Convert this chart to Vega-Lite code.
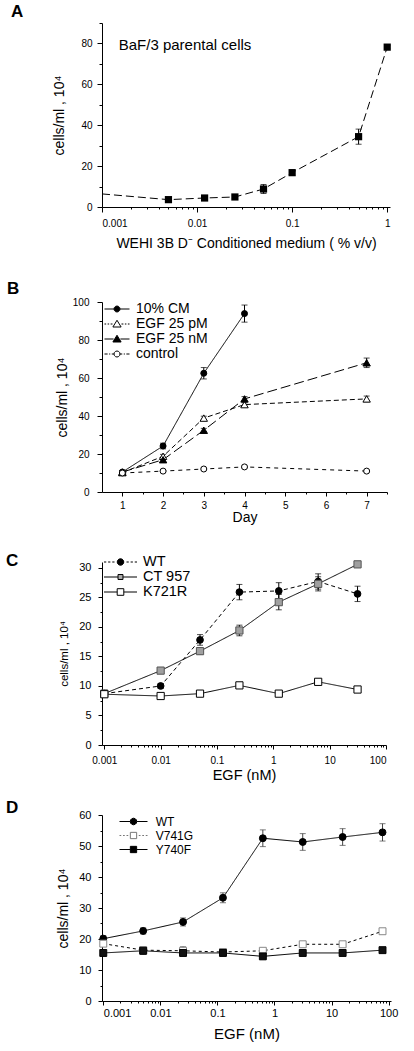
{
  "$schema": "https://vega.github.io/schema/vega-lite/v6.json",
  "padding": {"left": 6, "top": 3, "right": 5, "bottom": 5},
  "background": "white",
  "config": {
    "font": "Liberation Sans",
    "view": {"stroke": null},
    "axis": {"grid": false, "domainColor": "#000", "tickColor": "#000", "labelColor": "#000", "titleColor": "#000", "titleFontWeight": "normal", "labelFontSize": 10, "titleFontSize": 14, "labelOverlap": false, "domainWidth": 1, "tickWidth": 1},
    "title": {"color": "#000", "fontWeight": "bold", "fontSize": 17, "anchor": "start", "frame": "group", "baseline": "alphabetic"},
    "legend": {"titleFontSize": 0, "padding": 0, "rowPadding": 0, "symbolStrokeWidth": 1, "labelColor": "#000"}
  },
  "datasets": {
    "A": [
      {"x": 0.001, "y": 6.4, "err": 0},
      {"x": 0.005, "y": 3.6, "err": 0.8},
      {"x": 0.012, "y": 4.4, "err": 0.6},
      {"x": 0.025, "y": 4.9, "err": 0.6},
      {"x": 0.05, "y": 8.8, "err": 2.2},
      {"x": 0.1, "y": 16.8, "err": 1.3},
      {"x": 0.5, "y": 34.4, "err": 3.7},
      {"x": 1, "y": 78.2, "err": 0.8}
    ],
    "B": [
      {"series": "10% CM", "day": 1, "y": 10.5, "err": 0.8},
      {"series": "10% CM", "day": 2, "y": 24.2, "err": 1.5},
      {"series": "10% CM", "day": 3, "y": 62.5, "err": 3},
      {"series": "10% CM", "day": 4, "y": 93.9, "err": 4.5},
      {"series": "EGF 25 pM", "day": 1, "y": 10.2, "err": 0.5},
      {"series": "EGF 25 pM", "day": 2, "y": 18.8, "err": 1},
      {"series": "EGF 25 pM", "day": 3, "y": 38.9, "err": 1},
      {"series": "EGF 25 pM", "day": 4, "y": 46, "err": 1},
      {"series": "EGF 25 pM", "day": 7, "y": 49, "err": 1.5},
      {"series": "EGF 25 nM", "day": 1, "y": 10.5, "err": 0.5},
      {"series": "EGF 25 nM", "day": 2, "y": 17, "err": 1},
      {"series": "EGF 25 nM", "day": 3, "y": 32.5, "err": 1},
      {"series": "EGF 25 nM", "day": 4, "y": 49, "err": 1.2},
      {"series": "EGF 25 nM", "day": 7, "y": 68, "err": 2.5},
      {"series": "control", "day": 1, "y": 10, "err": 0.5},
      {"series": "control", "day": 2, "y": 11, "err": 0.5},
      {"series": "control", "day": 3, "y": 12.1, "err": 0.5},
      {"series": "control", "day": 4, "y": 13.2, "err": 0.5},
      {"series": "control", "day": 7, "y": 11, "err": 0.5}
    ],
    "C": [
      {"series": "WT", "x": 0.001, "y": 8.7, "err": 0.5},
      {"series": "WT", "x": 0.01, "y": 10, "err": 0.4},
      {"series": "WT", "x": 0.05, "y": 17.8, "err": 0.9},
      {"series": "WT", "x": 0.25, "y": 25.9, "err": 1.3},
      {"series": "WT", "x": 1.25, "y": 26.1, "err": 1.4},
      {"series": "WT", "x": 6.25, "y": 27.7, "err": 1.3},
      {"series": "WT", "x": 31.25, "y": 25.6, "err": 1.3},
      {"series": "CT 957", "x": 0.001, "y": 8.7, "err": 0.6},
      {"series": "CT 957", "x": 0.01, "y": 12.6, "err": 0.4},
      {"series": "CT 957", "x": 0.05, "y": 15.9, "err": 0.5},
      {"series": "CT 957", "x": 0.25, "y": 19.4, "err": 0.9},
      {"series": "CT 957", "x": 1.25, "y": 24.2, "err": 1.3},
      {"series": "CT 957", "x": 6.25, "y": 27.3, "err": 1.2},
      {"series": "CT 957", "x": 31.25, "y": 30.6, "err": 0.3},
      {"series": "K721R", "x": 0.001, "y": 8.6, "err": 0.4},
      {"series": "K721R", "x": 0.01, "y": 8.3, "err": 0.3},
      {"series": "K721R", "x": 0.05, "y": 8.7, "err": 0.3},
      {"series": "K721R", "x": 0.25, "y": 10.1, "err": 0.3},
      {"series": "K721R", "x": 1.25, "y": 8.7, "err": 0.3},
      {"series": "K721R", "x": 6.25, "y": 10.7, "err": 0.3},
      {"series": "K721R", "x": 31.25, "y": 9.4, "err": 0.3}
    ],
    "D": [
      {"series": "WT", "x": 0.001, "y": 20.1, "err": 1},
      {"series": "WT", "x": 0.005, "y": 22.6, "err": 1},
      {"series": "WT", "x": 0.025, "y": 25.5, "err": 1.3},
      {"series": "WT", "x": 0.125, "y": 33.3, "err": 1.6},
      {"series": "WT", "x": 0.625, "y": 52.5, "err": 2.7},
      {"series": "WT", "x": 3.125, "y": 51.3, "err": 2.7},
      {"series": "WT", "x": 15.625, "y": 52.9, "err": 2.7},
      {"series": "WT", "x": 78.125, "y": 54.4, "err": 2.8},
      {"series": "V741G", "x": 0.001, "y": 18.5, "err": 0.5},
      {"series": "V741G", "x": 0.005, "y": 16.4, "err": 0.5},
      {"series": "V741G", "x": 0.025, "y": 16.2, "err": 1.3},
      {"series": "V741G", "x": 0.125, "y": 15.8, "err": 0.5},
      {"series": "V741G", "x": 0.625, "y": 16.2, "err": 0.5},
      {"series": "V741G", "x": 3.125, "y": 18.3, "err": 0.5},
      {"series": "V741G", "x": 15.625, "y": 18.3, "err": 0.5},
      {"series": "V741G", "x": 78.125, "y": 22.5, "err": 0.8},
      {"series": "Y740F", "x": 0.001, "y": 15.5, "err": 1},
      {"series": "Y740F", "x": 0.005, "y": 16.2, "err": 1.2},
      {"series": "Y740F", "x": 0.025, "y": 15.5, "err": 1},
      {"series": "Y740F", "x": 0.125, "y": 15.5, "err": 0.8},
      {"series": "Y740F", "x": 0.625, "y": 14.4, "err": 0.8},
      {"series": "Y740F", "x": 3.125, "y": 15.5, "err": 0.5},
      {"series": "Y740F", "x": 15.625, "y": 15.5, "err": 0.5},
      {"series": "Y740F", "x": 78.125, "y": 16.4, "err": 0.5}
    ]
  },
  "bounds": "flush",
  "spacing": 95,
  "resolve": {"scale": {"shape": "independent", "fill": "independent", "stroke": "independent"}, "legend": {"shape": "independent", "fill": "independent", "stroke": "independent"}},
  "vconcat": [
    {
      "title": {"text": "A", "dx": -91, "offset": 0, "dy": 3},
      "width": 288,
      "height": 184,
      "data": {"name": "A"},
      "encoding": {
        "x": {"field": "x", "type": "quantitative", "scale": {"type": "log", "domain": [0.001, 1.07], "nice": false},
          "axis": {"values": [0.001,0.002,0.003,0.004,0.005,0.006,0.007,0.008,0.009,0.01,0.02,0.03,0.04,0.05,0.06,0.07,0.08,0.09,0.1,0.2,0.3,0.4,0.5,0.6,0.7,0.8,0.9,1],
            "format": "~g", "labelExpr": "abs(log(datum.value)/LN10 - round(log(datum.value)/LN10)) < 0.01 ? datum.label : ''",
            "tickSize": {"condition": {"test": "abs(log(datum.value)/LN10 - round(log(datum.value)/LN10)) < 0.01", "value": 5}, "value": 2},
            "labelPadding": 6, "title": "WEHI 3B D⁻ Conditioned medium ( % v/v)", "titlePadding": 8}},
        "y": {"field": "y", "type": "quantitative", "scale": {"domain": [0, 90], "nice": false},
          "axis": {"values": [0,10,20,30,40,50,60,70,80,90], "labelExpr": "datum.value % 20 === 0 ? datum.label : ''",
            "tickSize": {"condition": {"test": "datum.value % 20 === 0", "value": 5}, "value": 3},
            "labelPadding": 5, "title": "cells/ml , 10⁴", "titlePadding": 14}}
      },
      "layer": [
        {"mark": {"type": "line", "color": "#000", "strokeWidth": 1, "strokeDash": [8, 4]}},
        {"transform": [{"filter": "datum.x > 0.0011"}],
         "mark": {"type": "errorbar", "color": "#000", "ticks": {"size": 6}},
         "encoding": {"yError": {"field": "err"}}},
        {"transform": [{"filter": "datum.x > 0.0011"}],
         "mark": {"type": "point", "shape": "square", "filled": true, "color": "#000", "size": 52, "opacity": 1}},
        {"transform": [{"filter": "datum.x === 1"}],
         "mark": {"type": "text", "align": "left", "baseline": "middle", "fontSize": 15, "color": "#000"},
         "encoding": {"x": {"datum": 0.0015}, "y": {"datum": 79}, "text": {"value": "BaF/3 parental cells"}}}
      ]
    },
    {
      "bounds": "flush",
      "spacing": 70,
      "resolve": {"scale": {"shape": "independent", "fill": "independent", "stroke": "independent"}, "legend": {"shape": "independent", "fill": "independent", "stroke": "independent"}},
      "vconcat": [
        {
          "title": {"text": "B", "dx": -95, "offset": 1, "dy": 2},
          "width": 285,
          "height": 190,
          "data": {"name": "B"},
          "encoding": {
            "x": {"field": "day", "type": "quantitative", "scale": {"domain": [0.5, 7.5], "nice": false},
              "axis": {"values": [1,1.5,2,2.5,3,3.5,4,4.5,5,5.5,6,6.5,7,7.5], "format": "~g", "labelExpr": "datum.value % 1 === 0 ? datum.label : ''",
                "tickSize": {"condition": {"test": "datum.value % 1 === 0", "value": 4}, "value": 2},
                "labelPadding": 4, "title": "Day", "titlePadding": 0}},
            "y": {"field": "y", "type": "quantitative", "scale": {"domain": [0, 100], "nice": false},
              "axis": {"values": [0,10,20,30,40,50,60,70,80,90,100], "labelExpr": "datum.value % 20 === 0 ? datum.label : ''",
                "tickSize": {"condition": {"test": "datum.value % 20 === 0", "value": 5}, "value": 3},
                "labelPadding": 8, "title": "cells/ml , 10⁴", "titlePadding": 3}}
          },
          "layer": [
            {"mark": {"type": "line", "color": "#000", "strokeWidth": 1},
             "encoding": {"detail": {"field": "series"},
               "strokeDash": {"condition": [
                 {"test": "datum.series === 'EGF 25 pM'", "value": [5, 3]},
                 {"test": "datum.series === 'EGF 25 nM'", "value": [10, 4]},
                 {"test": "datum.series === 'control'", "value": [4, 4]}], "value": [1, 0]}}},
            {"mark": {"type": "errorbar", "color": "#000", "ticks": {"size": 6}},
             "encoding": {"yError": {"field": "err"}, "detail": {"field": "series"}}},
            {"mark": {"type": "point", "filled": false, "strokeWidth": 1, "stroke": "#000", "opacity": 1},
             "encoding": {
               "shape": {"condition": {"test": "datum.series === 'EGF 25 pM' || datum.series === 'EGF 25 nM'", "value": "triangle-up"}, "value": "circle"},
               "size": {"condition": {"test": "datum.series === 'EGF 25 pM' || datum.series === 'EGF 25 nM'", "value": 55}, "value": 36},
               "fill": {"condition": {"test": "datum.series === 'EGF 25 pM' || datum.series === 'control'", "value": "#fff"}, "value": "#000"}
             }},
            {"transform": [{"filter": "false"}],
             "mark": {"type": "point", "filled": false, "strokeWidth": 1, "stroke": "#000", "opacity": 1},
             "encoding": {
               "shape": {"field": "series", "type": "nominal",
                 "scale": {"domain": ["10% CM", "EGF 25 pM", "EGF 25 nM", "control"], "range": [
                   "M-1.667,0H-0.4M0.4,0H1.667M0.4,0L0.346,0.2L0.2,0.346L0,0.4L-0.2,0.346L-0.346,0.2L-0.4,0L-0.346,-0.2L-0.2,-0.346L0,-0.4L0.2,-0.346L0.346,-0.2Z",
                   "M-1.667,0H-1.45M-1.25,0H-1.05M-0.85,0H-0.6M0.6,0H0.85M1.05,0H1.25M1.45,0H1.667M0,-0.5L0.55,0.4L-0.55,0.4Z",
                   "M-1.667,0H-0.45M0.45,0H1.667M0,-0.5L0.55,0.4L-0.55,0.4Z",
                   "M-1.667,0H-1.25M-1.05,0H-0.9M-0.7,0H-0.4M0.4,0H0.7M0.9,0H1.05M1.25,0H1.667M0.4,0L0.346,0.2L0.2,0.346L0,0.4L-0.2,0.346L-0.346,0.2L-0.4,0L-0.346,-0.2L-0.2,-0.346L0,-0.4L0.2,-0.346L0.346,-0.2Z"]},
                 "legend": {"title": null, "orient": "none", "legendX": 7, "legendY": -1, "symbolSize": 225, "labelFontSize": 14, "labelOffset": 11, "rowPadding": 0}},
               "fill": {"field": "series", "type": "nominal",
                 "scale": {"domain": ["10% CM", "EGF 25 pM", "EGF 25 nM", "control"], "range": ["#000", "#fff", "#000", "#fff"]},
                 "legend": {"title": null, "orient": "none", "legendX": 7, "legendY": -1, "symbolSize": 225, "labelFontSize": 14, "labelOffset": 11, "rowPadding": 0}}
             }}
          ]
        },
        {
          "title": {"text": "C", "dx": -96, "offset": 0, "dy": 16},
          "width": 284,
          "height": 183,
          "data": {"name": "C"},
          "encoding": {
            "x": {"field": "x", "type": "quantitative", "scale": {"type": "log", "domain": [0.00091, 100], "nice": false},
              "axis": {"values": [0.001,0.002,0.003,0.004,0.005,0.006,0.007,0.008,0.009,0.01,0.02,0.03,0.04,0.05,0.06,0.07,0.08,0.09,0.1,0.2,0.3,0.4,0.5,0.6,0.7,0.8,0.9,1,2,3,4,5,6,7,8,9,10,20,30,40,50,60,70,80,90,100],
                "format": "~g", "labelExpr": "abs(log(datum.value)/LN10 - round(log(datum.value)/LN10)) < 0.01 ? datum.label : ''",
                "tickSize": {"condition": {"test": "abs(log(datum.value)/LN10 - round(log(datum.value)/LN10)) < 0.01", "value": 4}, "value": 2},
                "labelPadding": 6, "title": "EGF (nM)", "titleFontSize": 14.5, "titlePadding": 3}},
            "y": {"field": "y", "type": "quantitative", "scale": {"domain": [0, 31], "nice": false},
              "axis": {"values": [0,2.5,5,7.5,10,12.5,15,17.5,20,22.5,25,27.5,30], "labelExpr": "datum.value % 5 === 0 ? datum.label : ''",
                "tickSize": {"condition": {"test": "datum.value % 5 === 0", "value": 4}, "value": 2},
                "labelFontSize": 11, "labelPadding": 7, "title": "cells/ml , 10⁴", "titleFontSize": 11.5, "titlePadding": 9}}
          },
          "layer": [
            {"mark": {"type": "line", "color": "#000", "strokeWidth": 1},
             "encoding": {"detail": {"field": "series"},
               "strokeDash": {"condition": {"test": "datum.series === 'WT'", "value": [4, 3]}, "value": [1, 0]}}},
            {"mark": {"type": "errorbar", "color": "#000", "ticks": {"size": 6}},
             "encoding": {"yError": {"field": "err"}, "detail": {"field": "series"}}},
            {"mark": {"type": "point", "filled": false, "strokeWidth": 1, "opacity": 1},
             "encoding": {
               "shape": {"condition": {"test": "datum.series === 'WT'", "value": "circle"}, "value": "square"},
               "size": {"condition": {"test": "datum.series === 'WT'", "value": 45}, "value": 52},
               "fill": {"condition": [{"test": "datum.series === 'CT 957'", "value": "#a0a0a0"}, {"test": "datum.series === 'K721R'", "value": "#fff"}], "value": "#000"},
               "stroke": {"condition": {"test": "datum.series === 'CT 957'", "value": "#555"}, "value": "#000"}
             }},
            {"transform": [{"filter": "false"}],
             "mark": {"type": "point", "filled": false, "strokeWidth": 1, "stroke": "#000", "opacity": 1},
             "encoding": {
               "shape": {"field": "series", "type": "nominal",
                 "scale": {"domain": ["WT", "CT 957", "K721R"], "range": [
                   "M-2.2,0H-1.9M-1.65,0H-1.35M-1.1,0H-0.8M0.8,0H1.1M1.35,0H1.65M1.9,0H2.2M0.44,0L0.381,0.22L0.22,0.381L0,0.44L-0.22,0.381L-0.381,0.22L-0.44,0L-0.381,-0.22L-0.22,-0.381L0,-0.44L0.22,-0.381L0.381,-0.22Z",
                   "M-2.2,0H-0.33M0.33,0H2.2M-0.33,-0.33H0.33V0.33H-0.33Z",
                   "M-2.2,0H-0.44M0.44,0H2.2M-0.44,-0.44H0.44V0.44H-0.44Z"]},
                 "legend": {"title": null, "orient": "none", "legendX": 10.5, "legendY": -8, "symbolSize": 225, "labelFontSize": 14.5, "labelOffset": 14.5, "rowPadding": 0}},
               "fill": {"field": "series", "type": "nominal",
                 "scale": {"domain": ["WT", "CT 957", "K721R"], "range": ["#000", "#aaa", "#fff"]},
                 "legend": {"title": null, "orient": "none", "legendX": 10.5, "legendY": -8, "symbolSize": 225, "labelFontSize": 14.5, "labelOffset": 14.5, "rowPadding": 0}}
             }}
          ]
        },
        {
          "title": {"text": "D", "dx": -96, "offset": 0, "dy": 8},
          "width": 289,
          "height": 186,
          "data": {"name": "D"},
          "encoding": {
            "x": {"field": "x", "type": "quantitative", "scale": {"type": "log", "domain": [0.00095, 110], "nice": false},
              "axis": {"values": [0.001,0.002,0.003,0.004,0.005,0.006,0.007,0.008,0.009,0.01,0.02,0.03,0.04,0.05,0.06,0.07,0.08,0.09,0.1,0.2,0.3,0.4,0.5,0.6,0.7,0.8,0.9,1,2,3,4,5,6,7,8,9,10,20,30,40,50,60,70,80,90,100],
                "format": "~g", "labelExpr": "abs(log(datum.value)/LN10 - round(log(datum.value)/LN10)) < 0.01 ? datum.label : ''",
                "tickSize": {"condition": {"test": "abs(log(datum.value)/LN10 - round(log(datum.value)/LN10)) < 0.01", "value": 4}, "value": 2},
                "labelAlign": {"condition": {"test": "datum.value < 0.002", "value": "left"}, "value": "center"},
                "labelFontSize": 11, "labelPadding": 2, "title": "EGF (nM)", "titleFontSize": 15, "titlePadding": 8}},
            "y": {"field": "y", "type": "quantitative", "scale": {"domain": [0, 60], "nice": false},
              "axis": {"values": [0,5,10,15,20,25,30,35,40,45,50,55,60], "labelExpr": "datum.value % 10 === 0 ? datum.label : ''",
                "tickSize": {"condition": {"test": "datum.value % 10 === 0", "value": 4}, "value": 2},
                "labelFontSize": 11, "labelPadding": 7, "title": "cells/ml , 10⁴", "titlePadding": 8}}
          },
          "layer": [
            {"mark": {"type": "line", "color": "#000", "strokeWidth": 1},
             "encoding": {"detail": {"field": "series"},
               "strokeDash": {"condition": {"test": "datum.series === 'V741G'", "value": [3, 3]}, "value": [1, 0]}}},
            {"mark": {"type": "errorbar", "color": "#444", "ticks": {"size": 6}},
             "encoding": {"yError": {"field": "err"}, "detail": {"field": "series"}}},
            {"mark": {"type": "point", "filled": false, "size": 48, "strokeWidth": 1, "opacity": 1},
             "encoding": {
               "shape": {"condition": {"test": "datum.series === 'WT'", "value": "circle"}, "value": "square"},
               "fill": {"condition": [{"test": "datum.series === 'V741G'", "value": "#fff"}, {"test": "datum.series === 'Y740F'", "value": "#111"}], "value": "#000"},
               "stroke": {"condition": {"test": "datum.series === 'V741G'", "value": "#888"}, "value": "#000"}
             }},
            {"transform": [{"filter": "false"}],
             "mark": {"type": "point", "filled": false, "strokeWidth": 1, "opacity": 1},
             "encoding": {
               "shape": {"field": "series", "type": "nominal",
                 "scale": {"domain": ["WT", "V741G", "Y740F"], "range": [
                   "M-2,0H-0.47M0.47,0H2M0.47,0L0.407,0.235L0.235,0.407L0,0.47L-0.235,0.407L-0.407,0.235L-0.47,0L-0.407,-0.235L-0.235,-0.407L0,-0.47L0.235,-0.407L0.407,-0.235Z",
                   "M-2,0H-1.75M-1.5,0H-1.25M-1,0H-0.75M0.75,0H1M1.25,0H1.5M1.75,0H2M-0.45,-0.45H0.45V0.45H-0.45Z",
                   "M-2,0H-0.45M0.45,0H2M-0.45,-0.45H0.45V0.45H-0.45Z"]},
                 "legend": {"title": null, "orient": "none", "legendX": 24, "legendY": -1, "symbolSize": 196, "labelFontSize": 12, "labelOffset": 14.7, "rowPadding": 0}},
               "fill": {"field": "series", "type": "nominal",
                 "scale": {"domain": ["WT", "V741G", "Y740F"], "range": ["#000", "#fff", "#000"]},
                 "legend": {"title": null, "orient": "none", "legendX": 24, "legendY": -1, "symbolSize": 196, "labelFontSize": 12, "labelOffset": 14.7, "rowPadding": 0}},
               "stroke": {"field": "series", "type": "nominal",
                 "scale": {"domain": ["WT", "V741G", "Y740F"], "range": ["#000", "#777", "#000"]},
                 "legend": {"title": null, "orient": "none", "legendX": 24, "legendY": -1, "symbolSize": 196, "labelFontSize": 12, "labelOffset": 14.7, "rowPadding": 0}}
             }}
          ]
        }
      ]
    }
  ]
}
